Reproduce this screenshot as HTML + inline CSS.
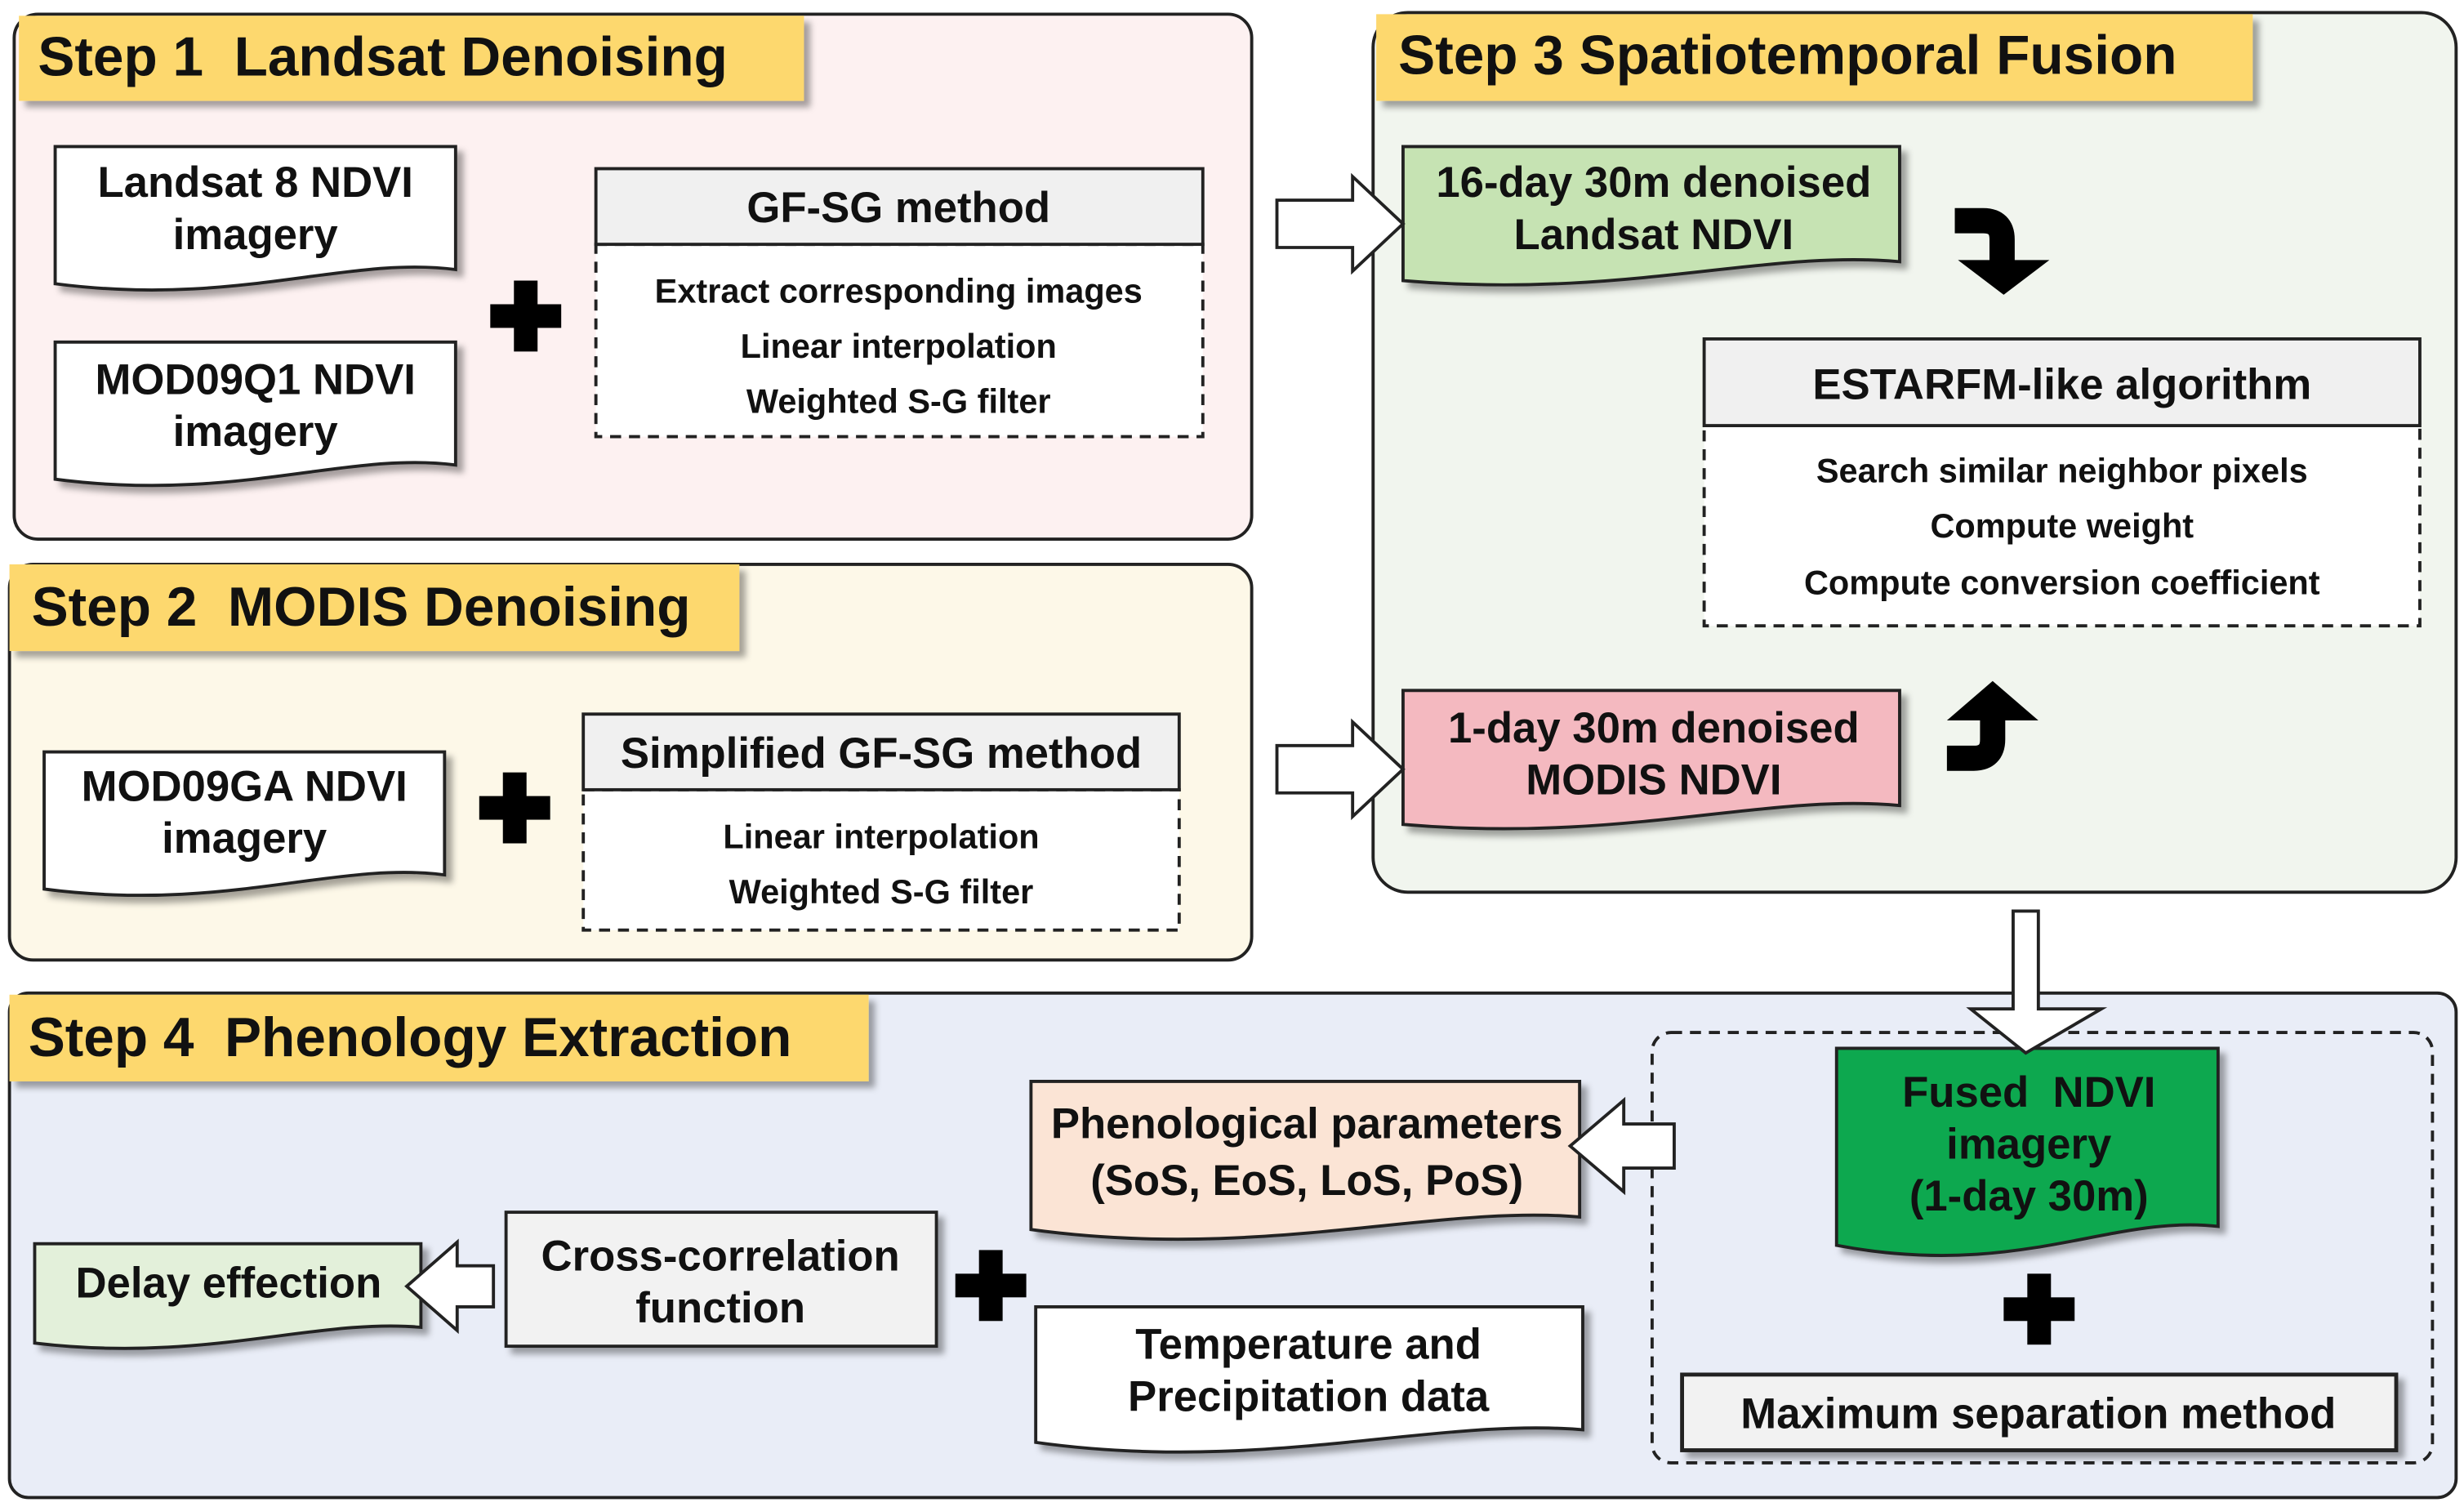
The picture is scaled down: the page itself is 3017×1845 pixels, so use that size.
<!DOCTYPE html>
<html><head><meta charset="utf-8"><style>
html,body{margin:0;padding:0;background:#fff;}
svg{display:block;}
text{font-family:"Liberation Sans",Arial,sans-serif;font-weight:bold;fill:#111;}
.l{font-size:21.5px;}
.m{font-size:27.3px;}
.h{font-size:35px;}
</style></head><body>
<svg width="3017" height="1845" viewBox="0 0 1563 956" preserveAspectRatio="none" xmlns="http://www.w3.org/2000/svg">
<defs>
<filter id="sh" x="-10%" y="-10%" width="130%" height="140%"><feDropShadow dx="4" dy="4" stdDeviation="2" flood-color="#000" flood-opacity="0.35"/></filter>
</defs>
<rect x="9" y="9" width="785" height="333" rx="15" fill="#fdf1f1" stroke="#222" stroke-width="2"/>
<rect x="6" y="358" width="788" height="251" rx="15" fill="#fdf8e8" stroke="#222" stroke-width="2"/>
<rect x="871" y="8" width="687" height="558" rx="22" fill="#f1f5ee" stroke="#222" stroke-width="2"/>
<rect x="6" y="630" width="1552" height="320" rx="12" fill="#e9edf7" stroke="#222" stroke-width="2"/>

<g filter="url(#sh)">
<rect x="12" y="10" width="498" height="54" fill="#fdd86e"/>
<rect x="6" y="358" width="463" height="55" fill="#fdd86e"/>
<rect x="873" y="9" width="556" height="55" fill="#fdd86e"/>
<rect x="6" y="631" width="545" height="55" fill="#fdd86e"/>
</g>
<text class="h" x="24" y="48">Step 1&#160; Landsat Denoising</text>
<text class="h" x="20" y="397">Step 2&#160; MODIS Denoising</text>
<text class="h" x="887" y="47">Step 3 Spatiotemporal Fusion</text>
<text class="h" x="18" y="670">Step 4&#160; Phenology Extraction</text>

<g filter="url(#sh)" stroke="#222" stroke-width="2">
<path d="M35,93 H289 V171 C220,162 150,195 35,180 Z" fill="#fff"/>
<path d="M35,217 H289 V295 C220,286 150,319 35,304 Z" fill="#fff"/>
<path d="M28,477 H282 V555 C213,546 143,579 28,564 Z" fill="#fff"/>
<path d="M890,93 H1205 V166 C1120,158 1030,190 890,178 Z" fill="#c6e3b3"/>
<path d="M890,438 H1205 V511 C1120,503 1030,535 890,523 Z" fill="#f4b9c0"/>
<path d="M1165,665 H1407 V778 C1340,770 1280,812 1165,790 Z" fill="#0aa84f"/>
<path d="M654,686 H1002 V772 C910,764 800,800 654,780 Z" fill="#fbe4d5"/>
<path d="M657,829 H1004 V907 C910,899 800,935 657,915 Z" fill="#fff"/>
<path d="M22,789 H267 V842 C200,836 130,865 22,852 Z" fill="#e3f0da"/>
<rect x="321" y="769" width="273" height="85" fill="#f2f2f2"/>
<rect x="1067" y="872" width="453" height="48" fill="#f2f2f2" stroke-width="2.5"/>
</g>
<g text-anchor="middle">
<text class="m" x="162" y="125">Landsat 8 NDVI</text><text class="m" x="162" y="158">imagery</text>
<text class="m" x="162" y="250">MOD09Q1 NDVI</text><text class="m" x="162" y="283">imagery</text>
<text class="m" x="155" y="508">MOD09GA NDVI</text><text class="m" x="155" y="541">imagery</text>
<text class="m" x="1049" y="125">16-day 30m denoised</text><text class="m" x="1049" y="158">Landsat NDVI</text>
<text class="m" x="1049" y="471">1-day 30m denoised</text><text class="m" x="1049" y="504">MODIS NDVI</text>
<text class="m" x="1287" y="702">Fused&#160; NDVI</text><text class="m" x="1287" y="735">imagery</text><text class="m" x="1287" y="768">(1-day 30m)</text>
<text class="m" x="829" y="722">Phenological parameters</text><text class="m" x="829" y="758">(SoS, EoS, LoS, PoS)</text>
<text class="m" x="830" y="862">Temperature and</text><text class="m" x="830" y="895">Precipitation data</text>
<text class="m" x="145" y="823">Delay effection</text>
<text class="m" x="457" y="806">Cross-correlation</text><text class="m" x="457" y="839">function</text>
<text class="m" x="1293" y="906">Maximum separation method</text>
</g>

<g stroke="#222" stroke-width="2">
<rect x="378" y="155" width="385" height="122" fill="#fff" stroke-dasharray="7,5"/>
<rect x="378" y="107" width="385" height="48" fill="#f0f0f0"/>
<rect x="370" y="501" width="378" height="89" fill="#fff" stroke-dasharray="7,5"/>
<rect x="370" y="453" width="378" height="48" fill="#f0f0f0"/>
<rect x="1081" y="270" width="454" height="127" fill="#fff" stroke-dasharray="7,5"/>
<rect x="1081" y="215" width="454" height="55" fill="#f0f0f0"/>
<rect x="1048" y="655" width="495" height="273" rx="12" fill="none" stroke-dasharray="7,5"/>
</g>
<g text-anchor="middle">
<text class="m" x="570" y="141">GF-SG method</text>
<text class="l" x="570" y="192">Extract corresponding images</text>
<text class="l" x="570" y="227">Linear interpolation</text>
<text class="l" x="570" y="262">Weighted S-G filter</text>
<text class="m" x="559" y="487">Simplified GF-SG method</text>
<text class="l" x="559" y="538">Linear interpolation</text>
<text class="l" x="559" y="573">Weighted S-G filter</text>
<text class="m" x="1308" y="253">ESTARFM-like algorithm</text>
<text class="l" x="1308" y="306">Search similar neighbor pixels</text>
<text class="l" x="1308" y="341">Compute weight</text>
<text class="l" x="1308" y="377">Compute conversion coefficient</text>
</g>

<g fill="#000">
<rect x="311" y="193" width="45" height="15"/><rect x="326" y="178" width="15" height="45"/>
<rect x="304" y="505" width="45" height="15"/><rect x="319" y="490" width="15" height="45"/>
<rect x="606" y="808" width="45" height="15"/><rect x="621" y="793" width="15" height="45"/>
<rect x="1271" y="823" width="45" height="15"/><rect x="1286" y="808" width="15" height="45"/>
</g>

<g fill="#fff" stroke="#222" stroke-width="2" stroke-linejoin="miter">
<polygon points="810,127 858,127 858,112 890,142 858,172 858,157 810,157"/>
<polygon points="810,473 858,473 858,458 890,488 858,518 858,503 810,503"/>
<polygon points="1277,578 1293,578 1293,640 1333,640 1285,668 1250,640 1277,640" />
<polygon points="1062,713 1030,713 1030,698 996,727 1030,756 1030,741 1062,741"/>
<polygon points="313,803 290,803 290,788 258,816 290,844 290,829 313,829"/>
</g>

<g fill="none" stroke="#000" stroke-width="16">
<path d="M1240,140 H1258 Q1270,140 1270,152 V168"/>
<path d="M1235,481 H1252 Q1264,481 1264,469 V455"/>
</g>
<g fill="#000">
<polygon points="1242,165 1300,165 1271,187"/>
<polygon points="1235,457 1293,457 1264,432"/>
</g>
</svg>
</body></html>
